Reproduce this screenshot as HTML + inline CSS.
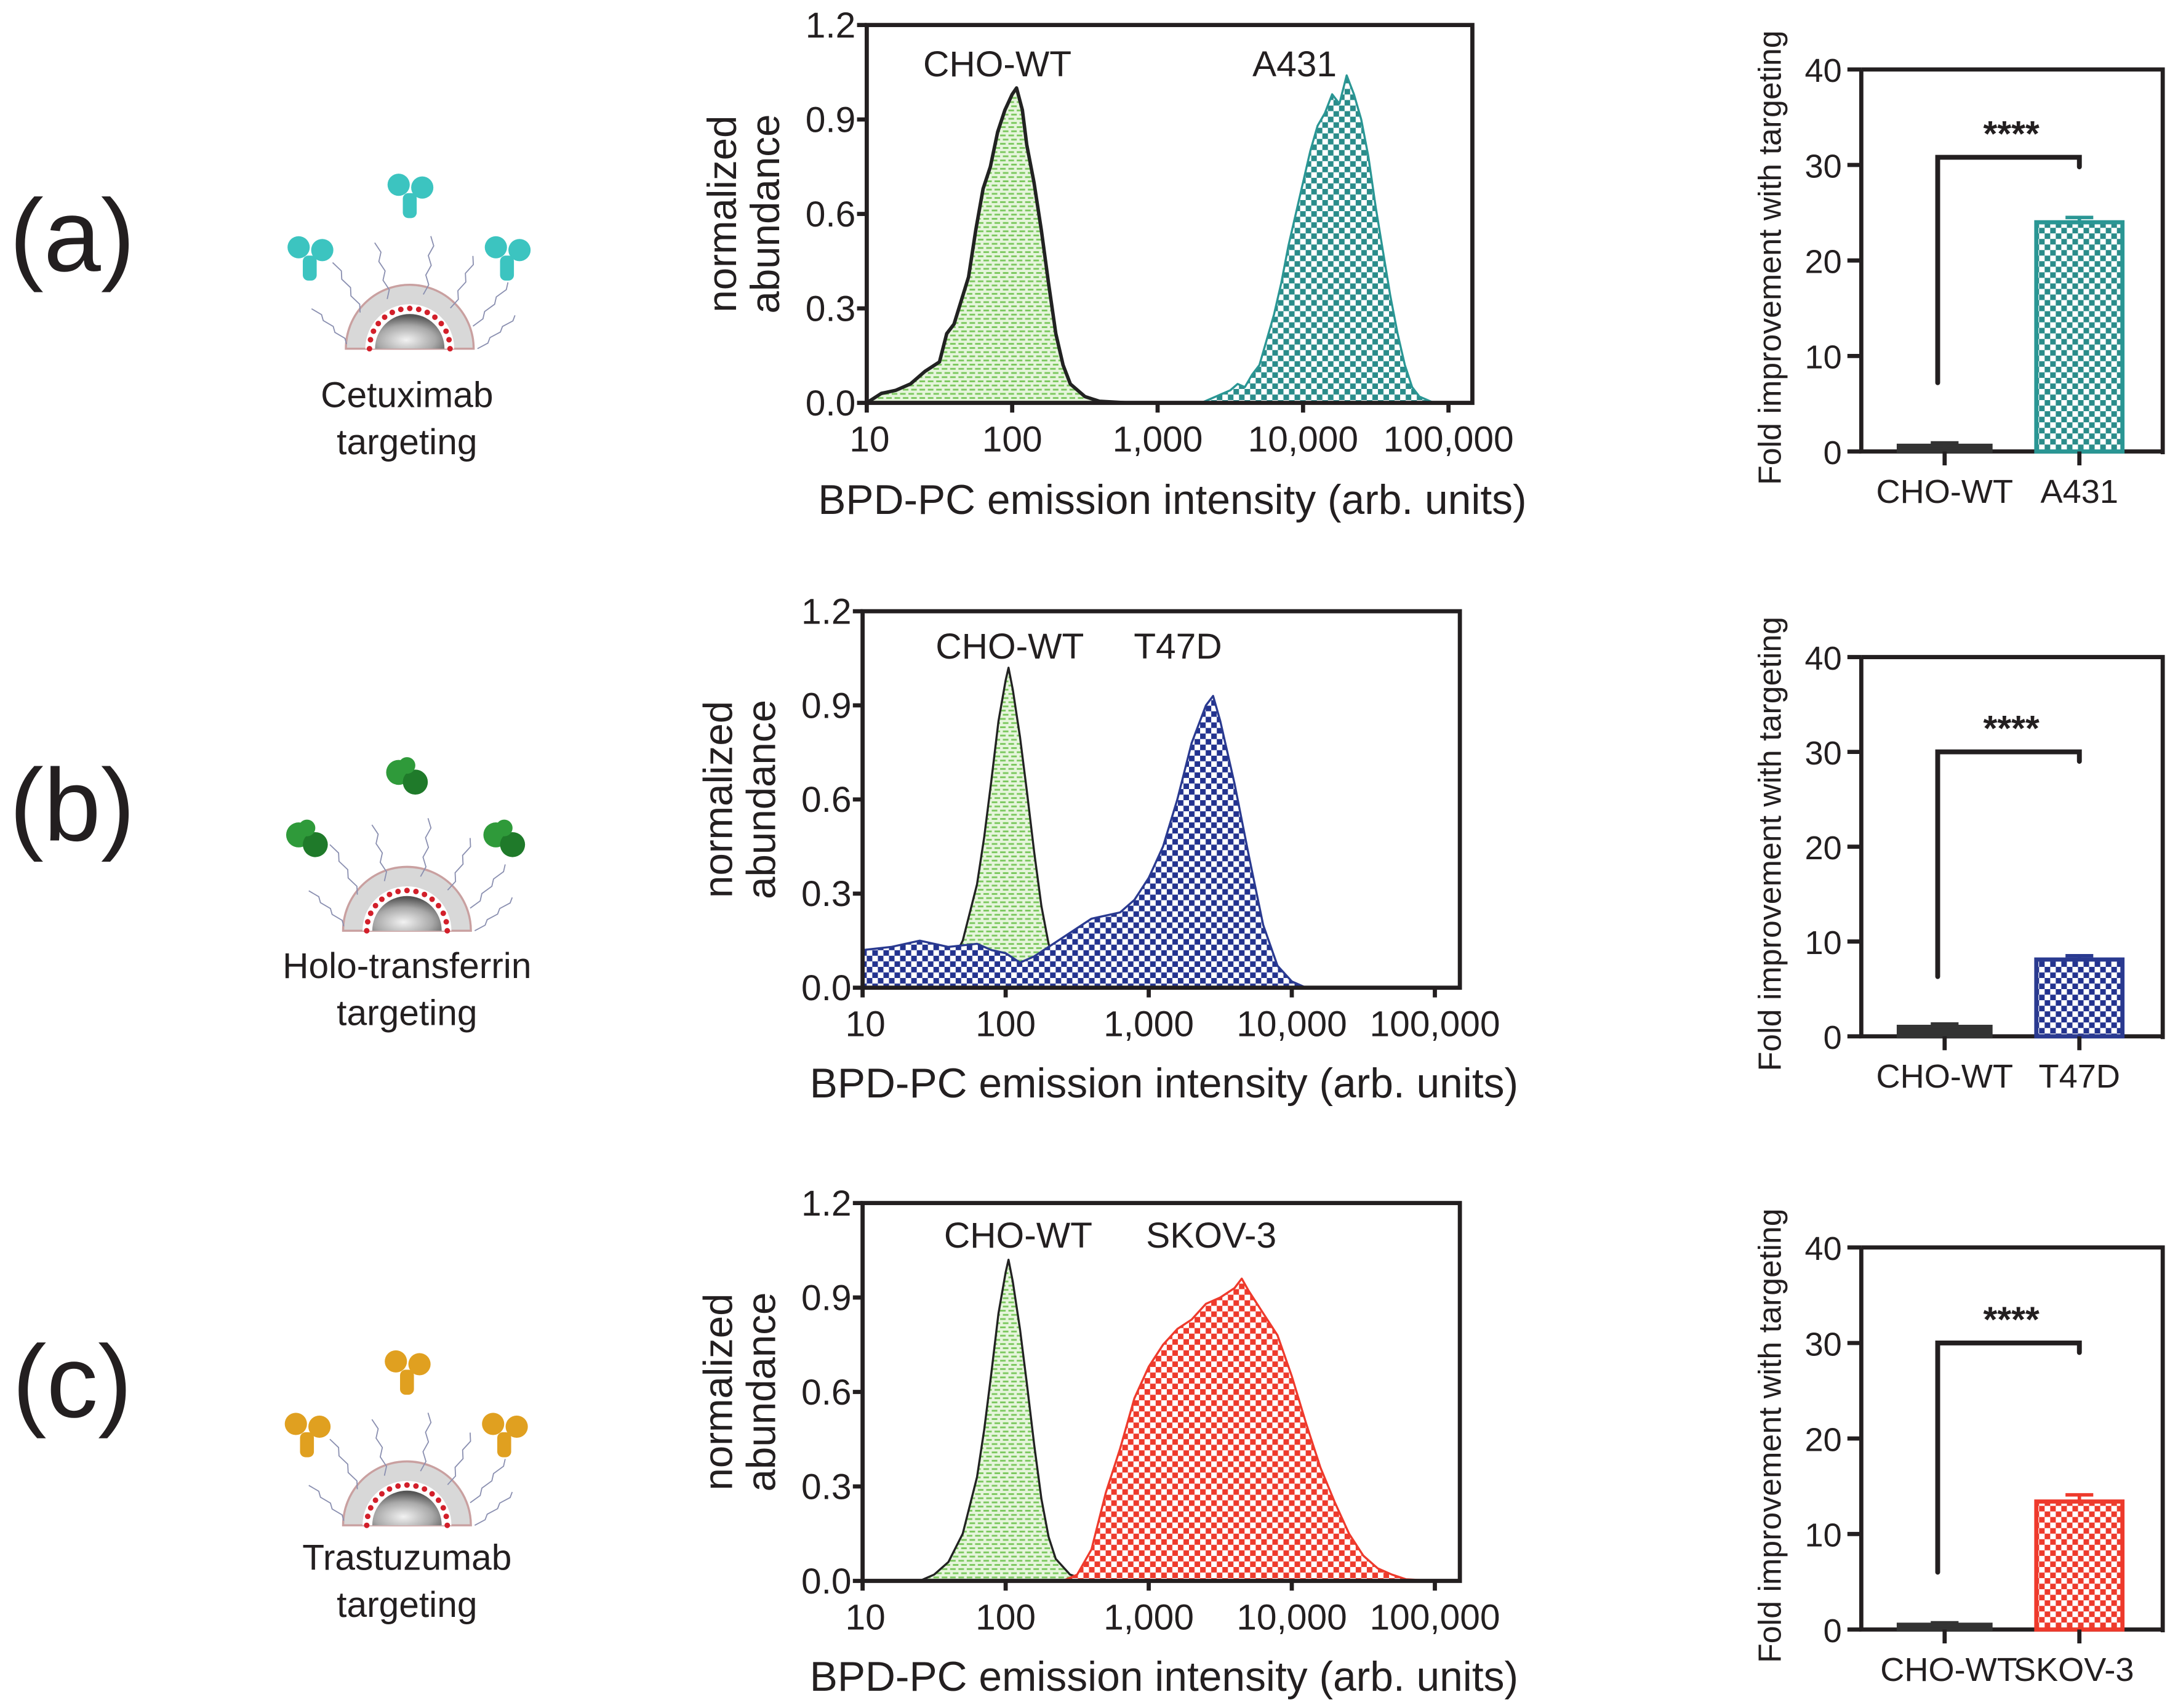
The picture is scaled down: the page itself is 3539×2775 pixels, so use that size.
<!DOCTYPE html>
<html><head><meta charset="utf-8"><style>
html,body{margin:0;padding:0;background:#fff}
svg{display:block}
text{font-family:"Liberation Sans",Arial,sans-serif;fill:#231f20}
</style></head><body>
<svg id="fig" width="3539" height="2775" viewBox="0 0 1568 1229.5" preserveAspectRatio="none" xmlns="http://www.w3.org/2000/svg">
<defs>
<pattern id="pGreen" width="6" height="6" patternUnits="userSpaceOnUse"><rect width="6" height="6" fill="#e6f5dc"/><path d="M0 1.5h4M2 4.5h4" stroke="#7cc85f" stroke-width="1.3"/></pattern>
<pattern id="pTeal" width="8" height="8" patternUnits="userSpaceOnUse"><rect width="8" height="8" fill="#fff"/><rect width="4" height="4" fill="#2a8c8a"/><rect x="4" y="4" width="4" height="4" fill="#2a8c8a"/></pattern>
<pattern id="pNavy" width="8" height="8" patternUnits="userSpaceOnUse"><rect width="8" height="8" fill="#fff"/><rect width="4" height="4" fill="#23338f"/><rect x="4" y="4" width="4" height="4" fill="#23338f"/></pattern>
<pattern id="pRed" width="8" height="8" patternUnits="userSpaceOnUse"><rect width="8" height="8" fill="#fff"/><rect width="4" height="4" fill="#ee3a2c"/><rect x="4" y="4" width="4" height="4" fill="#ee3a2c"/></pattern>
<radialGradient id="gSphere" cx="0.45" cy="0.75" r="0.7"><stop offset="0" stop-color="#f2f2f2"/><stop offset="0.6" stop-color="#a8a8a8"/><stop offset="1" stop-color="#555"/></radialGradient>
</defs>
<g id="root"></g>
</svg>
<script>
// ---- histogram data (x in log10 units, y normalized abundance) ----
const aChoX = [1.0,1.1,1.2,1.3,1.4,1.5,1.55,1.6,1.7,1.75,1.8,1.85,1.9,1.95,2.0,2.03,2.07,2.1,2.15,2.2,2.25,2.3,2.35,2.4,2.5,2.6,2.8];
const aChoY = [0,0.03,0.04,0.06,0.1,0.13,0.22,0.25,0.4,0.55,0.68,0.75,0.86,0.93,0.98,1.0,0.93,0.82,0.7,0.55,0.38,0.22,0.12,0.06,0.02,0.005,0];
const aTgtX = [3.3,3.35,3.4,3.45,3.5,3.55,3.6,3.65,3.7,3.75,3.8,3.85,3.9,3.95,4.0,4.05,4.1,4.15,4.2,4.25,4.3,4.35,4.4,4.45,4.5,4.55,4.6,4.65,4.7,4.75,4.8,4.85,4.9];
const aTgtY = [0,0.01,0.02,0.03,0.04,0.06,0.05,0.09,0.12,0.2,0.28,0.38,0.5,0.6,0.7,0.8,0.88,0.92,0.98,0.95,1.04,0.98,0.9,0.78,0.62,0.48,0.34,0.22,0.12,0.05,0.02,0.01,0];
const bChoX = [1.4,1.5,1.6,1.7,1.8,1.85,1.9,1.95,2.0,2.02,2.05,2.1,2.15,2.2,2.25,2.3,2.35,2.45,2.55,2.7];
const bChoY = [0,0.02,0.06,0.15,0.33,0.48,0.66,0.85,0.98,1.02,0.95,0.8,0.62,0.43,0.26,0.14,0.07,0.02,0.005,0];
const bTgtX = [1.0,1.2,1.4,1.6,1.8,1.9,2.0,2.1,2.2,2.4,2.6,2.8,2.9,3.0,3.1,3.2,3.3,3.4,3.45,3.5,3.6,3.7,3.8,3.9,4.0,4.1];
const bTgtY = [0.12,0.13,0.15,0.13,0.14,0.12,0.11,0.08,0.1,0.16,0.22,0.24,0.28,0.35,0.45,0.6,0.78,0.9,0.93,0.85,0.65,0.42,0.2,0.07,0.02,0];
const cChoX = [1.4,1.5,1.6,1.7,1.8,1.85,1.9,1.95,2.0,2.02,2.05,2.1,2.15,2.2,2.25,2.3,2.35,2.45,2.55,2.7];
const cChoY = [0,0.02,0.06,0.15,0.33,0.48,0.66,0.85,0.98,1.02,0.95,0.8,0.62,0.43,0.26,0.14,0.07,0.02,0.005,0];
const cTgtX = [2.4,2.5,2.6,2.7,2.8,2.9,3.0,3.1,3.2,3.3,3.4,3.5,3.6,3.65,3.7,3.8,3.9,4.0,4.1,4.2,4.3,4.4,4.5,4.6,4.7,4.8,5.0];
const cTgtY = [0,0.02,0.1,0.28,0.42,0.58,0.68,0.75,0.8,0.83,0.88,0.9,0.93,0.96,0.92,0.85,0.78,0.65,0.5,0.36,0.25,0.15,0.08,0.04,0.02,0.005,0];
const histYTicks = [0,0.3,0.6,0.9,1.2];
const histYLabels = ["0.0","0.3","0.6","0.9","1.2"];
const histXTicks = [1,2,3,4,5];
const histXLabels = ["10","100","1,000","10,000","100,000"];
// ---- bar data ----
const barCats = [["CHO-WT","A431"],["CHO-WT","T47D"],["CHO-WT","SKOV-3"]];
const barVals = [[0.6,24.0],[1.0,8.1],[0.5,13.4]];
const barErr = [[0.3,0.5],[0.3,0.4],[0.2,0.7]];
const barYTicks = [0,10,20,30,40];
const sigTop = [30.8,30.0,30.0];
const sigLeftLow = [7.2,6.3,6.0];
const sigRightLow = [29.8,29.0,29.0];

const NS="http://www.w3.org/2000/svg";
const root=document.getElementById('root');
function el(tag,attrs,parent,txt){const e=document.createElementNS(NS,tag);for(const k in attrs)e.setAttribute(k,attrs[k]);if(txt!==undefined)e.textContent=txt;(parent||root).appendChild(e);return e;}

const panels=[
 {key:'a',letterY:195,hx0:624,hx1:1060,hy0:18,hy1:290,dec:104.7,lbl1X:718,lbl2X:932,lblY:55,tgt:'A431',pat:'url(#pTeal)',col:'#2a9694',choW:2.5,
  choX:aChoX,choY:aChoY,tX:aTgtX,tY:aTgtY,bx0:1340,bx1:1557,by0:50,by1:325,titleY:370,caption:['Cetuximab','targeting'],capY:293,cx:295,cy:251,lig:'ab',ligCol:'#3cc4c0'},
 {key:'b',letterY:605,hx0:621,hx1:1051,hy0:440,hy1:711,dec:103,lbl1X:727,lbl2X:848,lblY:474,tgt:'T47D',pat:'url(#pNavy)',col:'#2a3a90',choW:1.5,
  choX:bChoX,choY:bChoY,tX:bTgtX,tY:bTgtY,bx0:1340,bx1:1557,by0:473,by1:746,titleY:790,caption:['Holo-transferrin','targeting'],capY:704,cx:293,cy:670,lig:'tf',ligCol:'#2f9a3a'},
 {key:'c',letterY:1020,hx0:621,hx1:1051,hy0:866,hy1:1138,dec:103,lbl1X:733,lbl2X:872,lblY:898,tgt:'SKOV-3',pat:'url(#pRed)',col:'#ee3a2c',choW:1.5,
  choX:cChoX,choY:cChoY,tX:cTgtX,tY:cTgtY,bx0:1340,bx1:1557,by0:898,by1:1173,titleY:1217,caption:['Trastuzumab','targeting'],capY:1130,cx:293,cy:1098,lig:'ab',ligCol:'#e0a020'}
];

panels.forEach((p,i)=>{
 const g=el('g',{});
 
 
 const L=el('text',{x:52,y:p.letterY,'font-size':74,'text-anchor':'middle'},g,'('+p.key+')');
 
 
 const ill=el('g',{},g);
 
 
 const cx=p.cx,cy=p.cy;
 el('path',{d:`M${cx-46} ${cy} A46 46 0 0 1 ${cx+46} ${cy} Z`,fill:'#d8d8d8',stroke:'#c9a0a0','stroke-width':1.5},ill);
 el('path',{d:`M${cx-32} ${cy} A32 32 0 0 1 ${cx+32} ${cy} Z`,fill:'#fff'},ill);
 for(let k=0;k<=14;k++){const a=Math.PI*k/14;el('circle',{cx:cx-29*Math.cos(a),cy:cy-29*Math.sin(a),r:2,fill:'#d21f2a'},ill);}
 el('path',{d:`M${cx-25} ${cy} A25 25 0 0 1 ${cx+25} ${cy} Z`,fill:'url(#gSphere)'},ill);
 const squig=[[-70,-5],[-55,-40],[-25,-55],[15,-60],[45,-45],[70,-25],[75,0]];
 squig.forEach(s=>{let d=`M${cx+s[0]*0.65} ${cy+s[1]*0.65}`;for(let k=1;k<=6;k++){d+=` l${(k%2?3:-3)+s[0]*0.06} ${-4+s[1]*0.05}`;}el('path',{d:d,fill:'none',stroke:'#8a8fb0','stroke-width':0.8},ill);});
 const lpos=[[-72,-65],[0,-110],[70,-65]];
 lpos.forEach(q=>{const x=cx+q[0],y=cy+q[1];
  if(p.lig==='ab'){el('circle',{cx:x-8,cy:y-8,r:8,fill:p.ligCol},ill);el('circle',{cx:x+9,cy:y-6,r:8,fill:p.ligCol},ill);el('rect',{x:x-5,y:y-2,width:10,height:18,rx:4,fill:p.ligCol},ill);}
  else{el('circle',{cx:x-6,cy:y-4,r:9,fill:p.ligCol},ill);el('circle',{cx:x+6,cy:y+3,r:9,fill:'#1f7a2a'},ill);el('circle',{cx:x,cy:y-9,r:6,fill:p.ligCol},ill);}
 });
 p.caption.forEach((c,k)=>{const t=el('text',{x:293,y:p.capY+k*34,'font-size':26,'text-anchor':'middle'},g,c);
  
  });

 const H=el('g',{},g);
 
 
 const xs=v=>p.hx0+(v-1)*p.dec;
 const ys=v=>p.hy1-(v/1.2)*(p.hy1-p.hy0);
 function area(X,Y,fill,stroke,w,name){
  let d=`M${xs(X[0])} ${ys(0)}`;X.forEach((x,k)=>{d+=` L${xs(x)} ${ys(Y[k])}`;});d+=` L${xs(X[X.length-1])} ${ys(0)} Z`;
  const a=el('path',{d:d,fill:fill,stroke:stroke,'stroke-width':w,'stroke-linejoin':'round'},H);
  
  
 }
 if(p.key==='a'){area(p.tX,p.tY,p.pat,p.col,1.5,'histogram-'+p.tgt);area(p.choX,p.choY,'url(#pGreen)','#222',p.choW,'histogram-cho-wt');}
 else{area(p.choX,p.choY,'url(#pGreen)','#222',p.choW,'histogram-cho-wt');area(p.tX,p.tY,p.pat,p.col,1.5,'histogram-'+p.tgt);}
 const fr=el('rect',{x:p.hx0,y:p.hy0,width:p.hx1-p.hx0,height:p.hy1-p.hy0,fill:'none',stroke:'#231f20','stroke-width':3},H);
 
 
 histYTicks.forEach((v,k)=>{el('line',{x1:p.hx0-7,x2:p.hx0,y1:ys(v),y2:ys(v),stroke:'#231f20','stroke-width':3},H);
  const t=el('text',{x:p.hx0-8,y:ys(v)+9,'font-size':26,'text-anchor':'end'},H,histYLabels[k]);
  
  });
 histXTicks.forEach((v,k)=>{el('line',{x1:xs(v),x2:xs(v),y1:p.hy1,y2:p.hy1+7,stroke:'#231f20','stroke-width':3},H);
  const t=el('text',{x:xs(v)+(k===0?2:0),y:p.hy1+35,'font-size':26,'text-anchor':'middle'},H,histXLabels[k]);
  
  });
 const yt=el('text',{transform:`translate(${p.hx0-94},${(p.hy0+p.hy1)/2}) rotate(-90)`,'font-size':29,'text-anchor':'middle'},H);
 
 
 el('tspan',{x:0,dy:0},yt,'normalized');el('tspan',{x:0,dy:31},yt,'abundance');
 const xt=el('text',{x:(p.hx0+p.hx1)/2+2,y:p.titleY,'font-size':30,'text-anchor':'middle'},H,'BPD-PC emission intensity (arb. units)');
 
 
 const l1=el('text',{x:p.lbl1X,y:p.lblY,'font-size':26,'text-anchor':'middle'},H,'CHO-WT');
 
 
 const l2=el('text',{x:p.lbl2X,y:p.lblY,'font-size':26,'text-anchor':'middle'},H,p.tgt);
 
 

 const B=el('g',{},g);
 
 
 const by=v=>p.by1-(v/40)*(p.by1-p.by0);
 const bcx=[1400,1497],bw=[66,62];
 el('path',{d:`M${p.bx0} ${p.by0} H${p.bx1} V${p.by1+2} M${p.bx0} ${p.by0} V${p.by1} H${p.bx1}`,fill:'none',stroke:'#231f20','stroke-width':3},B);
 barYTicks.forEach(v=>{el('line',{x1:p.bx0-10,x2:p.bx0,y1:by(v),y2:by(v),stroke:'#231f20','stroke-width':3},B);
  const t=el('text',{x:p.bx0-14,y:by(v)+9,'font-size':24,'text-anchor':'end'},B,String(v));
  
  });
 [0,1].forEach(j=>{
  const v=barVals[i][j],e=barErr[i][j];
  const r=el('rect',{x:bcx[j]-bw[j]/2,y:by(v),width:bw[j],height:by(0)-by(v),fill:j===0?'#333':p.pat,stroke:j===0?'#333':p.col,'stroke-width':3},B);
  
  
  el('path',{d:`M${bcx[j]} ${by(v)} V${by(v+e)} M${bcx[j]-10} ${by(v+e)} H${bcx[j]+10}`,stroke:j===0?'#333':p.col,'stroke-width':2.5,fill:'none'},B);
  el('line',{x1:bcx[j],x2:bcx[j],y1:p.by1,y2:p.by1+10,stroke:'#231f20','stroke-width':3},B);
  const t=el('text',{x:bcx[j]+(i===2?(j===0?3:-4):0),y:p.by1+37,'font-size':24,'text-anchor':'middle'},B,barCats[i][j]);
  
  
 });
 const sx0=bcx[0]-5,sx1=bcx[1];
 const br=el('path',{d:`M${sx0} ${by(sigLeftLow[i])} V${by(sigTop[i])} H${sx1} V${by(sigRightLow[i])}`,fill:'none',stroke:'#231f20','stroke-width':3.5,'stroke-linecap':'round'},B);
 
 
 const st=el('text',{x:(sx0+sx1)/2+2,y:by(sigTop[i])-8,'font-size':26,'font-weight':'bold','text-anchor':'middle'},B,'****');
 
 
 const byt=el('text',{transform:`translate(${p.bx0-58},${(p.by0+p.by1)/2-2}) rotate(-90)`,'font-size':23,'text-anchor':'middle'},B,'Fold improvement  with targeting');
 
 
});
</script>
</body></html>
